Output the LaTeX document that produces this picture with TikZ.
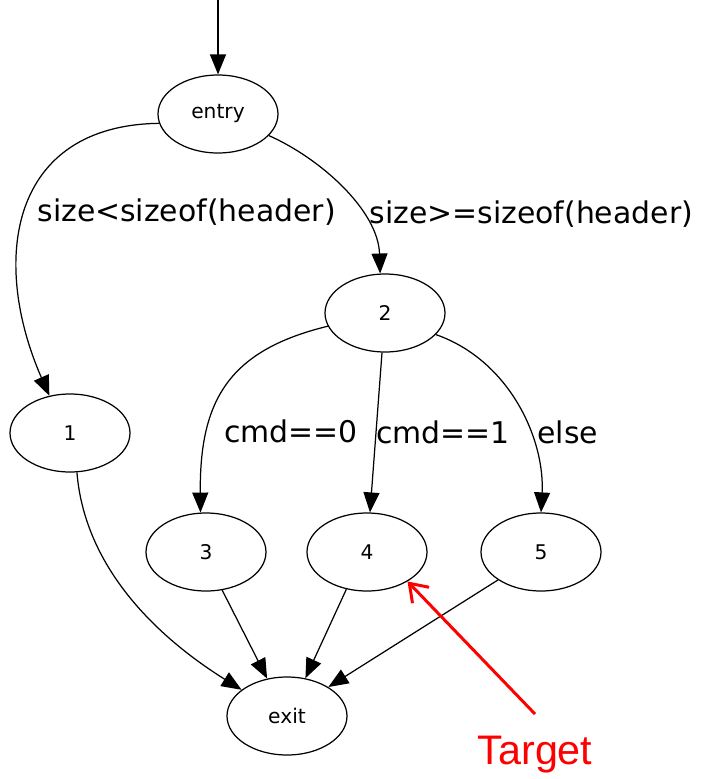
\documentclass[tikz,border=0pt]{standalone}
\usepackage{fontspec}
\setmainfont{DejaVu Sans}
\newfontfamily\notefont{Liberation Sans}
\usetikzlibrary{positioning,shapes.geometric,arrows.meta}

\begin{document}
\begin{tikzpicture}
[
on grid,
state-a/.style={ellipse, draw, line width=0.7pt, minimum width=24mm, minimum height=15.6mm, inner sep=0pt, font=\fontsize{11.5}{13}\selectfont},
text-a/.style={inner sep=1pt, font=\fontsize{17}{20}\selectfont},
edge-a/.style={line width=0.7pt, -{Triangle[length=4mm,width=3.2mm]}},
note-a/.style={red, line width=1.7pt, -{Straight Barb[length=3.3mm,width=4.6mm]}},
note-t/.style={red, inner sep=12.6pt, font=\notefont\fontsize{23.5}{28}\selectfont}
]
\useasboundingbox (0,0) rectangle (14.08,-15.58);
\node (entry)  [state-a] at (4.36,-2.28)                           {entry};
\coordinate [above = 2.28cm of entry] (entry-in);
\node (node-2) [state-a, below right = 3.98cm and 3.34cm of entry ] {2};
\node (node-1) [state-a, below left  = 6.38cm and 2.96cm of entry ] {1};
\node (node-4) [state-a, below left  = 4.78cm and 0.36cm of node-2] {4};
\node (node-3) [state-a, left        = 3.22cm of node-4           ] {3};
\node (node-5) [state-a, right       = 3.48cm of node-4           ] {5};
\node (exit)   [state-a, below left  = 3.28cm and 1.60cm of node-4] {exit};
\node (target) [note-t,  below right = 4.06cm and 3.36cm of node-4] {Target};
\draw [edge-a] (entry-in) -- (entry);
\draw [edge-a] (entry.189) .. controls +(-2.98,-0.04) and +(-1.19,2.72) .. (node-1.119)
  node [text-a, pos=0.51, anchor=west, xshift=2mm] {size<sizeof(header)};
\draw [edge-a] (entry.337) .. controls +(1.04,-0.46) and +(-0.04,1.26) .. (node-2.97)
  node [text-a, pos=0.66, anchor=west, xshift=1.2mm] {size>=sizeof(header)};
\draw [edge-a] (node-2.193) .. controls +(-1.97,-0.48) and +(-0.02,2.26) .. (node-3.98)
  node [text-a, pos=0.72, anchor=west, xshift=2.8mm] {cmd==0};
\draw [edge-a] (node-2) -- (node-4)
  node [text-a, pos=0.5, anchor=west, xshift=-0.4mm] {cmd==1};
\draw [edge-a] (node-2.337) .. controls +(1.49,-0.52) and +(0.08,1.44) .. (node-5.north)
  node [text-a, pos=0.63, anchor=west, xshift=1.1mm] {else};
\draw [edge-a] (node-1.280) .. controls +(0.16,-1.97) and +(-1.6,1.0) .. (exit.150);
\draw [edge-a] (node-3.293) -- (exit.118);
\draw [edge-a] (node-4.241) -- (exit.64);
\draw [edge-a] (node-5.213) -- (exit.35);
\draw [note-a] (target.north) -- (node-4.324);
\end{tikzpicture}
\end{document}
